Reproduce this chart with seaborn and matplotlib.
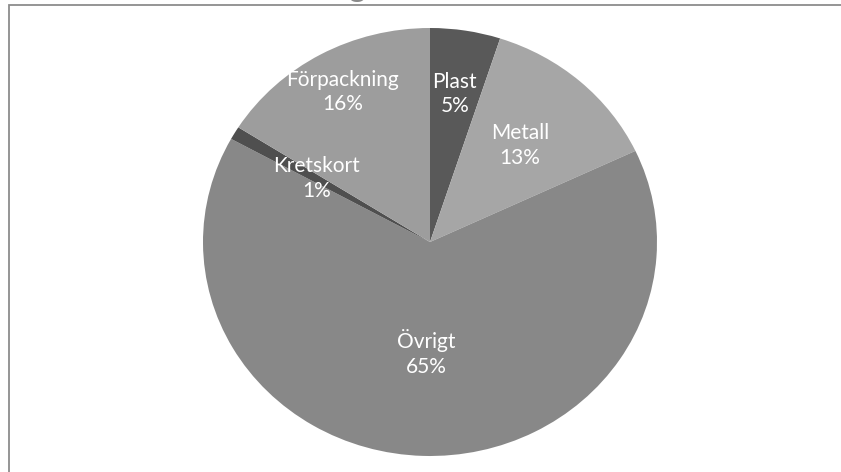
import matplotlib
matplotlib.use("Agg")
import matplotlib.pyplot as plt
import matplotlib.patches as mpatches
import numpy as np
import seaborn as sns

# data (clockwise from 12 o'clock)
categories = ["Plast", "Metall", "Övrigt", "Kretskort", "Förpackning"]
shares = [5, 13, 65, 1, 16]
slice_colors = ["#595959", "#a6a6a6", "#888888", "#4f4f4f", "#9d9d9d"]

sns.set_style("white")
plt.rcParams['font.family'] = ['Lato', 'DejaVu Sans']

fig = plt.figure(figsize=(8.41, 4.72), dpi=100)
ax = fig.add_axes([0, 0, 1, 1])

wedges, _ = ax.pie(shares, colors=slice_colors, startangle=90, counterclock=False,
                   wedgeprops=dict(linewidth=0))

# labels inside the slices, distance as fraction of radius
label_dist = [0.70, 0.60, 0.52, 0.58, 0.80]
for w, name, val, d in zip(wedges, categories, shares, label_dist):
    mid = np.deg2rad((w.theta1 + w.theta2) / 2)
    ax.text(d * np.cos(mid), d * np.sin(mid), f"{name}\n{val}%",
            ha="center", va="center", color="white", fontsize=15,
            linespacing=1.3)

# stretch the pie a bit horizontally like the original picture
ax.set_aspect("auto")
ax.set_xlim(-430 / 227, 411 / 227)
ax.set_ylim(-230 / 214, 242 / 214)
ax.axis("off")

# chart area border (cut off on the right and bottom)
fig.patches.append(mpatches.Rectangle((9 / 841, -0.05), 1.2, 1.05 - 5 / 472,
                                      transform=fig.transFigure, fill=False,
                                      edgecolor="#8c8c8c", linewidth=1.3))

# title, mostly cut off at the top edge as in the original
fig.text(30 / 841, 1 + 3 / 472, "Materialsammansättning", ha="left", va="baseline",
         fontsize=22, color="#8a8a8a", fontweight="bold")

fig.savefig("out.png", dpi=100)
